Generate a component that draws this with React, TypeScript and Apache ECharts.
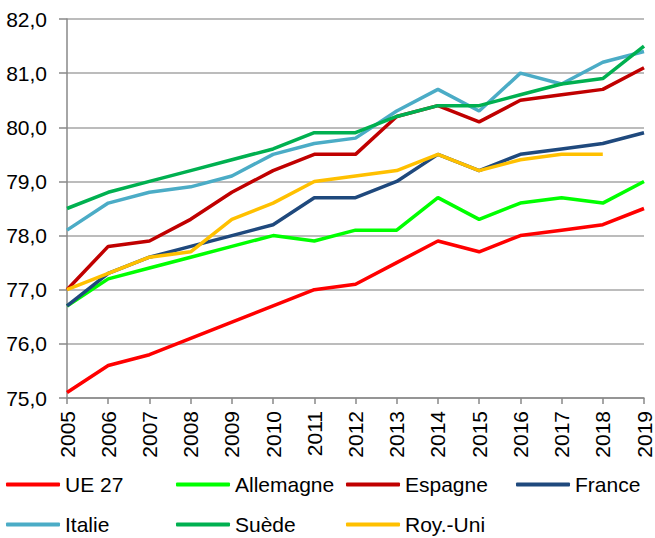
import React, { useEffect, useRef } from "react";
import * as echarts from "echarts";

const years = ["2005","2006","2007","2008","2009","2010","2011","2012","2013","2014","2015","2016","2017","2018","2019"];

const ue27 = [75.1, 75.6, 75.8, 76.1, 76.4, 76.7, 77.0, 77.1, 77.5, 77.9, 77.7, 78.0, 78.1, 78.2, 78.5];
const allemagne = [76.7, 77.2, 77.4, 77.6, 77.8, 78.0, 77.9, 78.1, 78.1, 78.7, 78.3, 78.6, 78.7, 78.6, 79.0];
const espagne = [77.0, 77.8, 77.9, 78.3, 78.8, 79.2, 79.5, 79.5, 80.2, 80.4, 80.1, 80.5, 80.6, 80.7, 81.1];
const france = [76.7, 77.3, 77.6, 77.8, 78.0, 78.2, 78.7, 78.7, 79.0, 79.5, 79.2, 79.5, 79.6, 79.7, 79.9];
const italie = [78.1, 78.6, 78.8, 78.9, 79.1, 79.5, 79.7, 79.8, 80.3, 80.7, 80.3, 81.0, 80.8, 81.2, 81.4];
const suede = [78.5, 78.8, 79.0, 79.2, 79.4, 79.6, 79.9, 79.9, 80.2, 80.4, 80.4, 80.6, 80.8, 80.9, 81.5];
const royUni: (number | null)[] = [77.0, 77.3, 77.6, 77.7, 78.3, 78.6, 79.0, 79.1, 79.2, 79.5, 79.2, 79.4, 79.5, 79.5, null];

const seriesNames = ["UE 27", "Allemagne", "Espagne", "France", "Italie", "Suède", "Roy.-Uni"];
const seriesData = [ue27, allemagne, espagne, france, italie, suede, royUni];
const seriesColors = ["#FF0000", "#00FF00", "#C00000", "#1F497D", "#4BACC6", "#00B050", "#FFC000"];

const FONT = "'Liberation Sans Narrow', 'Arial Narrow', 'Liberation Sans', sans-serif";

export default function App() {
  const ref = useRef<HTMLDivElement>(null);
  useEffect(() => {
    if (!ref.current) return;
    const chart = echarts.init(ref.current, null, { renderer: "svg" });
    const legendCols = [6, 176, 346, 516];
    const legendRows = [474, 514];
    const legends = seriesNames.map((name, i) => ({
      data: [name],
      left: legendCols[i % 4],
      top: legendRows[Math.floor(i / 4)],
      icon: "roundRect",
      itemWidth: 54,
      itemHeight: 4,
      padding: 0,
      textStyle: { fontFamily: FONT, fontSize: 21, color: "#000" },
    }));
    chart.setOption({
      animation: false,
      backgroundColor: "#fff",
      grid: { left: 67, right: 11, top: 19, bottom: 140, containLabel: false },
      legend: legends,
      xAxis: {
        type: "category",
        data: years,
        boundaryGap: false,
        axisLine: { show: true, lineStyle: { color: "#888", width: 1.5 } },
        axisTick: { show: true, interval: 0, length: 6, lineStyle: { color: "#888", width: 1.5 } },
        axisLabel: {
          interval: 0,
          rotate: 90,
          margin: 13,
          fontFamily: FONT,
          fontSize: 21,
          color: "#000",
        },
        splitLine: { show: false },
      },
      yAxis: {
        type: "value",
        min: 75,
        max: 82,
        interval: 1,
        axisLine: { show: true, lineStyle: { color: "#888", width: 1.5 } },
        axisTick: { show: true, length: 8, lineStyle: { color: "#888", width: 1.5 } },
        axisLabel: {
          margin: 20,
          fontFamily: FONT,
          fontSize: 21,
          color: "#000",
          formatter: (v: number) => v.toFixed(1).replace(".", ","),
        },
        splitLine: { show: true, lineStyle: { color: "#A6A6A6", width: 1.5 } },
      },
      series: seriesNames.map((name, i) => ({
        name,
        type: "line",
        data: seriesData[i],
        symbol: "none",
        color: seriesColors[i],
        lineStyle: { width: 3.5, color: seriesColors[i] },
        connectNulls: false,
      })),
    });
    return () => chart.dispose();
  }, []);
  return <div ref={ref} style={{ width: 655, height: 538, position: "absolute", left: 0, top: 0 }} />;
}
